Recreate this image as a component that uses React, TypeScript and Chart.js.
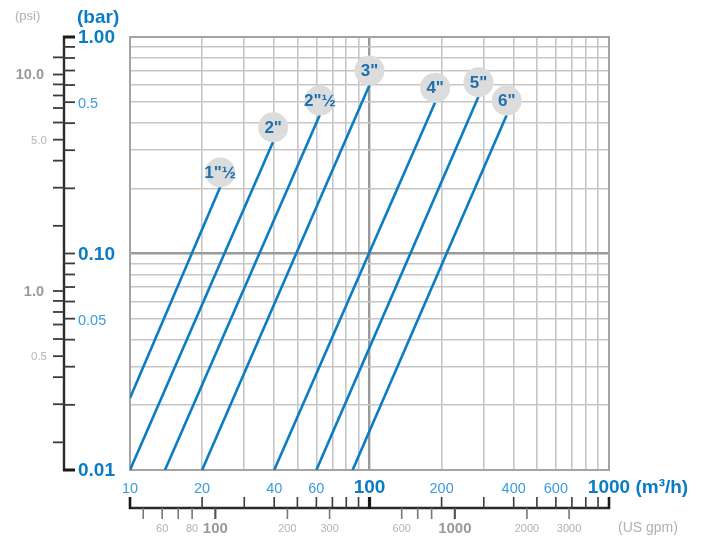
import React, { useEffect, useRef } from 'react';
import { Chart, registerables } from 'chart.js';

Chart.register(...registerables);

// ---- data ----
const PIPE_SIZES = ['1"½', '2"', '2"½', '3"', '4"', '5"', '6"'];
const FLOW_START = [10, 10, 14, 20, 40, 60, 85];
const DROP_START = [0.0215, 0.01, 0.01, 0.01, 0.01, 0.01, 0.01];
const FLOW_END = [23.8, 39.6, 62, 100, 188, 285, 374];
const DROP_END = [0.203, 0.328, 0.436, 0.6, 0.5, 0.53, 0.436];

const FLOW_GRID = [10, 20, 30, 40, 50, 60, 70, 80, 90, 100, 200, 300, 400, 500, 600, 700, 800, 900, 1000];
const DROP_GRID = [0.01, 0.02, 0.03, 0.04, 0.05, 0.06, 0.07, 0.08, 0.09, 0.1, 0.2, 0.3, 0.4, 0.5, 0.6, 0.7, 0.8, 0.9, 1];

const FLOW_LABEL_VALUES = [10, 20, 40, 60, 100, 200, 400, 600];
const FLOW_LABEL_TEXT = ['10', '20', '40', '60', '100', '200', '400', '600'];
const FLOW_LABEL_BOLD = [false, false, false, false, true, false, false, false];
const FLOW_LAST_VALUE = 1000;
const FLOW_LAST_TEXT = '1000';
const FLOW_UNIT = ' (m³/h)';

const DROP_LABEL_VALUES = [1, 0.5, 0.1, 0.05, 0.01];
const DROP_LABEL_TEXT = ['1.00', '0.5', '0.10', '0.05', '0.01'];
const DROP_LABEL_BOLD = [true, false, true, false, true];
const DROP_UNIT = '(bar)';

const PSI_PER_BAR = 14.9; // as drawn in the reference
const PSI_TICKS = [12, 10, 9, 8, 7, 6, 5, 4, 3, 2, 1, 0.9, 0.8, 0.7, 0.6, 0.5, 0.4, 0.3, 0.2];
const PSI_LABEL_VALUES = [10, 5, 1, 0.5];
const PSI_LABEL_TEXT = ['10.0', '5.0', '1.0', '0.5'];
const PSI_LABEL_BOLD = [true, false, true, false];
const PSI_UNIT = '(psi)';

const GPM_PER_M3H = 4.40287;
const GPM_TICKS = [50, 60, 70, 80, 100, 200, 300, 600, 700, 800, 1000, 2000, 3000];
const GPM_LABEL_VALUES = [60, 80, 100, 200, 300, 600, 1000, 2000, 3000];
const GPM_LABEL_TEXT = ['60', '80', '100', '200', '300', '600', '1000', '2000', '3000'];
const GPM_LABEL_BOLD = [false, false, true, false, false, false, true, false, false];
const GPM_UNIT = '(US gpm)';

// ---- styles ----
const FONT = '"Liberation Sans", Arial, Helvetica, sans-serif';
const BLUE = '#0a7cc4';
const LIGHT_BLUE = '#3a9de0';
const LABEL_BLUE = '#1d6fae';

const framePlugin = {
  id: 'frame',
  beforeDatasetsDraw(chart: any) {
    const { ctx, chartArea: a } = chart;
    ctx.save();
    ctx.strokeStyle = '#a3a3a3';
    ctx.lineWidth = 2;
    ctx.strokeRect(a.left, a.top, a.right - a.left, a.bottom - a.top);
    ctx.restore();
  },
};

const bubblePlugin = {
  id: 'bubbles',
  afterDatasetsDraw(chart: any) {
    const { ctx } = chart;
    const xs = chart.scales.x;
    const ys = chart.scales.y;
    ctx.save();
    PIPE_SIZES.forEach((name, i) => {
      const px = xs.getPixelForValue(FLOW_END[i]);
      const py = ys.getPixelForValue(DROP_END[i]) - 14.5;
      ctx.beginPath();
      ctx.arc(px, py, 15, 0, Math.PI * 2);
      ctx.fillStyle = '#dcdcdc';
      ctx.fill();
      ctx.fillStyle = LABEL_BLUE;
      ctx.font = `bold 17px ${FONT}`;
      ctx.textAlign = 'center';
      ctx.textBaseline = 'middle';
      ctx.fillText(name, px, py + 1);
    });
    ctx.restore();
  },
};

const axesPlugin = {
  id: 'sideAxes',
  afterDraw(chart: any) {
    const { ctx } = chart;
    const xs = chart.scales.x;
    const ys = chart.scales.y;
    const top = ys.getPixelForValue(1);
    const bottom = ys.getPixelForValue(0.01);
    const left = xs.getPixelForValue(10);
    const right = xs.getPixelForValue(1000);
    const AX = 64;
    const BY = 508;
    ctx.save();

    // ---- left (bar / psi) axis ----
    ctx.strokeStyle = '#2a2a2a';
    ctx.lineWidth = 2.4;
    ctx.beginPath();
    ctx.moveTo(AX, top - 1);
    ctx.lineTo(AX, bottom + 1);
    ctx.stroke();
    DROP_GRID.forEach((v) => {
      const y = ys.getPixelForValue(v);
      const heavy = v === 1 || v === 0.01;
      ctx.lineWidth = heavy ? 3 : 1.8;
      ctx.strokeStyle = heavy ? '#1a1a1a' : '#3a3a3a';
      ctx.beginPath();
      ctx.moveTo(AX - 1, y);
      ctx.lineTo(AX + 11, y);
      ctx.stroke();
    });
    PSI_TICKS.forEach((p) => {
      const y = ys.getPixelForValue(p / PSI_PER_BAR);
      ctx.lineWidth = 1.8;
      ctx.strokeStyle = '#3a3a3a';
      ctx.beginPath();
      ctx.moveTo(AX - 11, y);
      ctx.lineTo(AX, y);
      ctx.stroke();
    });
    ctx.textBaseline = 'middle';
    ctx.textAlign = 'left';
    DROP_LABEL_VALUES.forEach((v, i) => {
      const y = ys.getPixelForValue(v);
      if (DROP_LABEL_BOLD[i]) {
        ctx.font = `bold 19px ${FONT}`;
        ctx.fillStyle = BLUE;
        ctx.fillText(DROP_LABEL_TEXT[i], 78, y + 1);
      } else {
        ctx.font = `14.5px ${FONT}`;
        ctx.fillStyle = LIGHT_BLUE;
        ctx.fillText(DROP_LABEL_TEXT[i], 78, y + 2);
      }
    });
    ctx.font = `bold 19px ${FONT}`;
    ctx.fillStyle = BLUE;
    ctx.fillText(DROP_UNIT, 77, 18);

    ctx.textAlign = 'right';
    PSI_LABEL_VALUES.forEach((p, i) => {
      const y = ys.getPixelForValue(p / PSI_PER_BAR);
      if (PSI_LABEL_BOLD[i]) {
        ctx.font = `bold 14.5px ${FONT}`;
        ctx.fillStyle = '#9a9a9a';
        ctx.fillText(PSI_LABEL_TEXT[i], 44, y + 1);
      } else {
        ctx.font = `11.5px ${FONT}`;
        ctx.fillStyle = '#b5b5b5';
        ctx.fillText(PSI_LABEL_TEXT[i], 47, y + 1);
      }
    });
    ctx.textAlign = 'left';
    ctx.font = `13px ${FONT}`;
    ctx.fillStyle = '#b0b0b0';
    ctx.fillText(PSI_UNIT, 15, 16);

    // ---- bottom (m3/h / gpm) axis ----
    ctx.strokeStyle = '#2a2a2a';
    ctx.lineWidth = 2.4;
    ctx.beginPath();
    ctx.moveTo(left - 1, BY);
    ctx.lineTo(right + 1, BY);
    ctx.stroke();
    FLOW_GRID.forEach((v) => {
      const x = xs.getPixelForValue(v);
      const heavy = v === 100 || v === 10 || v === 1000;
      ctx.lineWidth = v === 100 ? 3.2 : heavy ? 2.6 : 1.6;
      ctx.strokeStyle = heavy ? '#1a1a1a' : '#3a3a3a';
      ctx.beginPath();
      ctx.moveTo(x, BY - 11);
      ctx.lineTo(x, BY + 1);
      ctx.stroke();
    });
    GPM_TICKS.forEach((g) => {
      const x = xs.getPixelForValue(g / GPM_PER_M3H);
      const heavy = g === 100 || g === 1000;
      ctx.lineWidth = heavy ? 2.2 : 1.6;
      ctx.strokeStyle = heavy ? '#555555' : '#777777';
      ctx.beginPath();
      ctx.moveTo(x, BY);
      ctx.lineTo(x, BY + 11);
      ctx.stroke();
    });
    ctx.textAlign = 'center';
    ctx.textBaseline = 'middle';
    FLOW_LABEL_VALUES.forEach((v, i) => {
      const x = xs.getPixelForValue(v);
      if (FLOW_LABEL_BOLD[i]) {
        ctx.font = `bold 19px ${FONT}`;
        ctx.fillStyle = BLUE;
        ctx.fillText(FLOW_LABEL_TEXT[i], x, 488);
      } else {
        ctx.font = `14.5px ${FONT}`;
        ctx.fillStyle = LIGHT_BLUE;
        ctx.fillText(FLOW_LABEL_TEXT[i], x, 489);
      }
    });
    {
      const x = xs.getPixelForValue(FLOW_LAST_VALUE);
      ctx.font = `bold 19px ${FONT}`;
      ctx.fillStyle = BLUE;
      const w = ctx.measureText(FLOW_LAST_TEXT).width;
      ctx.textAlign = 'left';
      ctx.fillText(FLOW_LAST_TEXT + FLOW_UNIT, x - w / 2, 488);
    }
    ctx.textAlign = 'center';
    GPM_LABEL_VALUES.forEach((g, i) => {
      const x = xs.getPixelForValue(g / GPM_PER_M3H);
      if (GPM_LABEL_BOLD[i]) {
        ctx.font = `bold 15px ${FONT}`;
        ctx.fillStyle = '#9a9a9a';
        ctx.fillText(GPM_LABEL_TEXT[i], x, 529);
      } else {
        ctx.font = `11px ${FONT}`;
        ctx.fillStyle = '#b3b3b3';
        ctx.fillText(GPM_LABEL_TEXT[i], x, 529);
      }
    });
    ctx.textAlign = 'left';
    ctx.font = `14px ${FONT}`;
    ctx.fillStyle = '#b0b0b0';
    ctx.fillText(GPM_UNIT, 618, 528);

    ctx.restore();
  },
};

export default function App() {
  const canvasRef = useRef<HTMLCanvasElement | null>(null);

  useEffect(() => {
    if (!canvasRef.current) return;
    const datasets = PIPE_SIZES.map((name, i) => ({
      label: name,
      data: [
        { x: FLOW_START[i], y: DROP_START[i] },
        { x: FLOW_END[i], y: DROP_END[i] },
      ],
      borderColor: BLUE,
      backgroundColor: BLUE,
      borderWidth: 2.6,
      pointRadius: 0,
      fill: false,
      tension: 0,
    }));

    const chart = new Chart(canvasRef.current, {
      type: 'line',
      data: { datasets },
      options: {
        responsive: false,
        animation: false,
        parsing: true,
        layout: { padding: { left: 130, top: 37, right: 96, bottom: 67 } },
        plugins: { legend: { display: false }, tooltip: { enabled: false } },
        scales: {
          x: {
            type: 'logarithmic',
            min: 10,
            max: 1000,
            afterBuildTicks: (axis: any) => {
              axis.ticks = FLOW_GRID.map((v) => ({ value: v }));
            },
            ticks: { display: false },
            border: { display: false },
            grid: {
              drawTicks: false,
              color: (c: any) => (c.tick && c.tick.value === 100 ? '#9a9a9a' : '#c6c6c6'),
              lineWidth: (c: any) => (c.tick && c.tick.value === 100 ? 2.4 : 1.6),
            },
          },
          y: {
            type: 'logarithmic',
            min: 0.01,
            max: 1,
            afterBuildTicks: (axis: any) => {
              axis.ticks = DROP_GRID.map((v) => ({ value: v }));
            },
            ticks: { display: false },
            border: { display: false },
            grid: {
              drawTicks: false,
              color: (c: any) => (c.tick && Math.abs(c.tick.value - 0.1) < 1e-9 ? '#9a9a9a' : '#c6c6c6'),
              lineWidth: (c: any) => (c.tick && Math.abs(c.tick.value - 0.1) < 1e-9 ? 2.4 : 1.6),
            },
          },
        },
      } as any,
      plugins: [framePlugin, bubblePlugin, axesPlugin],
    });
    return () => chart.destroy();
  }, []);

  return (
    <div style={{ position: 'fixed', left: 0, top: 0, width: 705, height: 537, background: '#ffffff' }}>
      <canvas ref={canvasRef} width={705} height={537} style={{ width: 705, height: 537, display: 'block' }} />
    </div>
  );
}
